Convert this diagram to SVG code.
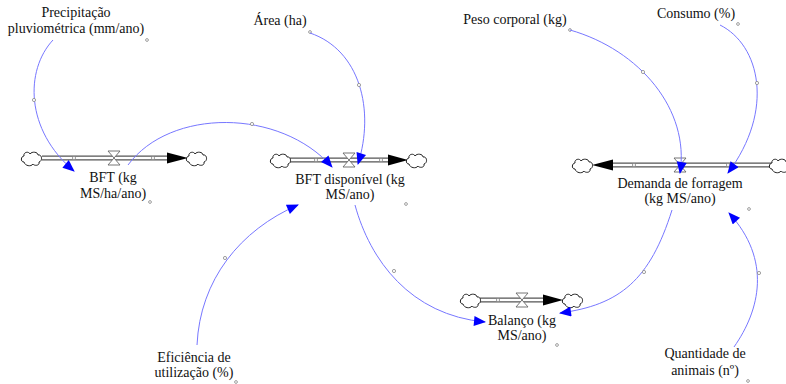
<svg xmlns="http://www.w3.org/2000/svg" xmlns:xlink="http://www.w3.org/1999/xlink" width="786" height="384" viewBox="0 0 786 384">
  <style>
    .lbl { font-family: "Liberation Serif", "Times New Roman", serif; font-size: 14px; fill: #111; text-anchor: middle; }
    .link { fill: none; stroke: #7777ff; stroke-width: 1; }
    .knot { fill: #fff; stroke: #888; stroke-width: 0.8; }
    .pipe-out { stroke: #555; stroke-width: 5; fill: none; }
    .pipe-in { stroke: #fff; stroke-width: 2.6; fill: none; }
    .valve { fill: #fff; stroke: #666; stroke-width: 0.9; }
    .head { fill: #000; }
    .cloud { fill: #fff; stroke: #222; stroke-width: 1; }
  </style>
  <defs>
    <marker id="blueArrow" viewBox="0 0 12 10" refX="11" refY="5" markerWidth="13" markerHeight="10" markerUnits="userSpaceOnUse" orient="auto">
      <path d="M0,0 L12,5 L0,10 Z" fill="#0000ff"/>
    </marker>
    <path id="cloudShape" class="cloud" d="M-8,4 C-12,4 -11,-2 -8,-2 C-9,-6 -3,-7 -2,-4 C0,-7 6,-6 6,-3 C10,-4 11,3 7,4 C8,8 2,8 1,6 C-1,9 -7,8 -8,4 Z"/>
    <path id="valveShape" class="valve" d="M-6,-7 L6,-7 L0,0 L6,7 L-6,7 L0,0 Z"/>
  </defs>

  <!-- flow: BFT (kg MS/ha/ano) -->
  <g id="flow-bft">
    <line class="pipe-out" x1="42" y1="158" x2="170" y2="158"/>
    <line class="pipe-in" x1="40" y1="158" x2="170" y2="158"/>
    <polygon class="head" points="167,152.5 188,158 167,163.5"/>
    <use xlink:href="#cloudShape" transform="translate(32,158)"/>
    <use xlink:href="#cloudShape" transform="translate(197,158)"/>
    <circle class="knot" cx="74" cy="158" r="1.6"/>
    <circle class="knot" cx="153" cy="158" r="1.6"/>
    <use xlink:href="#valveShape" transform="translate(114,158)"/>
    <text class="lbl" x="113" y="182">BFT (kg</text>
    <text class="lbl" x="113" y="198">MS/ha/ano)</text>
    <circle class="knot" cx="150" cy="202" r="1.4"/>
  </g>

  <!-- flow: BFT disponível -->
  <g id="flow-bft-disponivel">
    <line class="pipe-out" x1="290" y1="160" x2="390" y2="160"/>
    <line class="pipe-in" x1="288" y1="160" x2="390" y2="160"/>
    <polygon class="head" points="388,154.5 408,160 388,165.5"/>
    <use xlink:href="#cloudShape" transform="translate(281,160)"/>
    <use xlink:href="#cloudShape" transform="translate(417,160)"/>
    <circle class="knot" cx="316" cy="160" r="1.6"/>
    <circle class="knot" cx="381" cy="160" r="1.6"/>
    <use xlink:href="#valveShape" transform="translate(349,160)"/>
    <text class="lbl" x="350" y="184">BFT disponível (kg</text>
    <text class="lbl" x="350" y="199">MS/ano)</text>
    <circle class="knot" cx="406" cy="204" r="1.4"/>
  </g>

  <!-- flow: Demanda de forragem -->
  <g id="flow-demanda">
    <line class="pipe-out" x1="611" y1="165" x2="772" y2="165"/>
    <line class="pipe-in" x1="611" y1="165" x2="774" y2="165"/>
    <polygon class="head" points="613,159.5 592,165 613,170.5"/>
    <use xlink:href="#cloudShape" transform="translate(583,165)"/>
    <use xlink:href="#cloudShape" transform="translate(780,165)"/>
    <circle class="knot" cx="634" cy="165" r="1.6"/>
    <circle class="knot" cx="728" cy="165" r="1.6"/>
    <use xlink:href="#valveShape" transform="translate(680,165)"/>
    <text class="lbl" x="680" y="188">Demanda de forragem</text>
    <text class="lbl" x="680" y="203">(kg MS/ano)</text>
    <circle class="knot" cx="749" cy="209" r="1.4"/>
  </g>

  <!-- flow: Balanço -->
  <g id="flow-balanco">
    <line class="pipe-out" x1="480" y1="300" x2="545" y2="300"/>
    <line class="pipe-in" x1="478" y1="300" x2="545" y2="300"/>
    <polygon class="head" points="543,294.5 563,300 543,305.5"/>
    <use xlink:href="#cloudShape" transform="translate(471,300)"/>
    <use xlink:href="#cloudShape" transform="translate(573,300)"/>
    <circle class="knot" cx="498" cy="300" r="1.6"/>
    <use xlink:href="#valveShape" transform="translate(522,300)"/>
    <text class="lbl" x="522" y="325">Balanço (kg</text>
    <text class="lbl" x="522" y="340">MS/ano)</text>
    <circle class="knot" cx="557" cy="345" r="1.4"/>
  </g>

  <!-- auxiliary variables -->
  <g id="aux-precipitacao">
    <text class="lbl" x="76" y="17">Precipitação</text>
    <text class="lbl" x="76" y="33">pluviométrica (mm/ano)</text>
    <circle class="knot" cx="147" cy="40" r="1.4"/>
  </g>
  <g id="aux-area">
    <text class="lbl" x="280" y="25">Área (ha)</text>
    <circle class="knot" cx="310" cy="32" r="1.4"/>
  </g>
  <g id="aux-peso">
    <text class="lbl" x="515" y="24">Peso corporal (kg)</text>
    <circle class="knot" cx="570" cy="30" r="1.4"/>
  </g>
  <g id="aux-consumo">
    <text class="lbl" x="696" y="18">Consumo (%)</text>
    <circle class="knot" cx="738" cy="24" r="1.4"/>
  </g>
  <g id="aux-eficiencia">
    <text class="lbl" x="194" y="362">Eficiência de</text>
    <text class="lbl" x="194" y="377">utilização (%)</text>
    <circle class="knot" cx="236" cy="382" r="1.4"/>
  </g>
  <g id="aux-quantidade">
    <text class="lbl" x="705" y="358">Quantidade de</text>
    <text class="lbl" x="705" y="375">animais (nº)</text>
    <circle class="knot" cx="748" cy="381" r="1.4"/>
  </g>

  <!-- causal links -->
  <g id="connectors">
    <path class="link" marker-end="url(#blueArrow)" d="M53,40 C25,70 25,130 74,171"/>
    <circle class="knot" cx="34" cy="100" r="1.6"/>
    <path class="link" marker-end="url(#blueArrow)" d="M128,165 C170,108 280,108 332,167"/>
    <circle class="knot" cx="252" cy="124" r="1.6"/>
    <path class="link" marker-end="url(#blueArrow)" d="M310,33 C360,50 375,110 358,164"/>
    <circle class="knot" cx="359" cy="85" r="1.6"/>
    <path class="link" marker-end="url(#blueArrow)" d="M570,30 C640,50 690,110 680,173"/>
    <circle class="knot" cx="643" cy="72" r="1.6"/>
    <path class="link" marker-end="url(#blueArrow)" d="M720,25 C760,45 775,110 728,173"/>
    <circle class="knot" cx="757" cy="83" r="1.6"/>
    <path class="link" marker-end="url(#blueArrow)" d="M197,345 C200,280 240,230 298,205"/>
    <circle class="knot" cx="225" cy="258" r="1.6"/>
    <path class="link" marker-end="url(#blueArrow)" d="M355,205 C370,260 410,315 485,322"/>
    <circle class="knot" cx="394" cy="271" r="1.6"/>
    <path class="link" marker-end="url(#blueArrow)" d="M672,210 C650,280 620,305 560,313"/>
    <circle class="knot" cx="644" cy="272" r="1.6"/>
    <path class="link" marker-end="url(#blueArrow)" d="M734,347 C760,310 772,260 729,213"/>
    <circle class="knot" cx="759" cy="273" r="1.6"/>
  </g>
</svg>
